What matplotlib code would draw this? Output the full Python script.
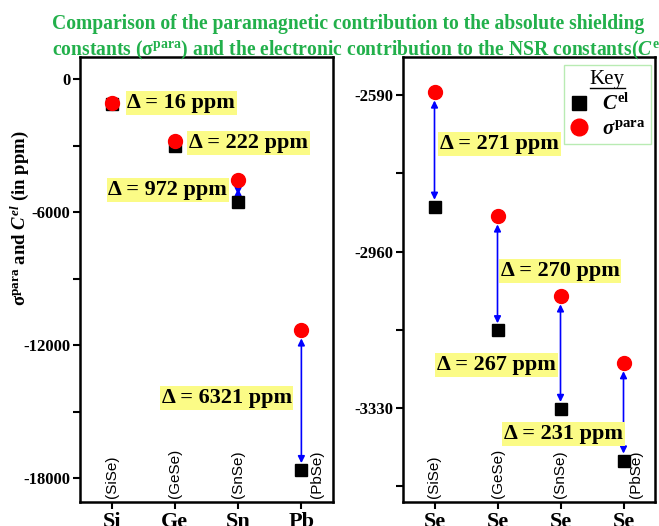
import matplotlib
matplotlib.use("Agg")
import matplotlib.pyplot as plt
from matplotlib.lines import Line2D
from matplotlib.ticker import FixedLocator
import matplotlib.transforms as mtransforms

plt.rcParams['font.family'] = ['Liberation Serif', 'DejaVu Serif']
plt.rcParams['font.weight'] = 'bold'
plt.rcParams['mathtext.fontset'] = 'custom'
plt.rcParams['mathtext.rm'] = 'Liberation Serif:bold'
plt.rcParams['mathtext.bf'] = 'Liberation Serif:bold'
plt.rcParams['mathtext.it'] = 'Liberation Serif:italic:bold'

# ---------------- data ----------------
left_elements = ["Si", "Ge", "Sn", "Pb"]
left_compounds = ["(SiSe)", "(GeSe)", "(SnSe)", "(PbSe)"]
left_sigma_para = [-1090, -2800, -4560, -11320]
left_c_el = [-1106, -3022, -5532, -17641]
left_delta = [16, 222, 972, 6321]

right_elements = ["Se", "Se", "Se", "Se"]
right_compounds = ["(SiSe)", "(GeSe)", "(SnSe)", "(PbSe)"]
right_sigma_para = [-2583, -2876, -3065, -3223]
right_c_el = [-2854, -3146, -3332, -3454]
right_delta = [271, 270, 267, 231]

left_yticks = [0, -6000, -12000, -18000]
right_yticks = [-2590, -2960, -3330]

# label placement (layout)
left_label_pos = [(1.25, -1083), (2.22, -2887), (0.95, -5008), (1.79, -14391)]
right_label_pos = [(1.09, -2706), (2.05, -3006), (1.04, -3228), (2.10, -3391)]
left_arrows = [False, False, True, True]
right_arrows = [True, True, True, True]

W, H = 659, 526
fig = plt.figure(figsize=(W / 100, H / 100), dpi=100)
axL = fig.add_axes([80 / W, 1 - 502 / H, (333 - 80) / W, (502 - 57) / H])
axR = fig.add_axes([403 / W, 1 - 502 / H, (655 - 403) / W, (502 - 57) / H])

yellow = '#fbfb86'
green = '#22b04b'


def style_axes(ax, yticks, ylim, elements, compounds, pb_shift):
    x = list(range(1, len(elements) + 1))
    ax.set_xlim(0.5, 4.5)
    ax.set_ylim(*ylim)
    ax.set_xticks(x)
    ax.set_xticklabels(elements, fontsize=16, fontweight='bold')
    ax.set_yticks(yticks)
    ax.set_yticklabels([str(t) for t in yticks], fontsize=12, fontweight='bold')
    step = yticks[0] - yticks[1]
    minors = [t - step / 2 for t in yticks] + [yticks[0] + step / 2]
    ax.yaxis.set_minor_locator(FixedLocator(minors))
    ax.tick_params(axis='both', which='major', direction='out', length=5, width=1.5, pad=2)
    ax.tick_params(axis='y', which='minor', direction='out', length=5, width=1.5)
    for s in ax.spines.values():
        s.set_linewidth(1.8)
    trans = mtransforms.blended_transform_factory(ax.transData, ax.transAxes)
    for i, c in enumerate(compounds):
        dx = pb_shift if i == len(compounds) - 1 else 0.0
        ax.text(x[i] + dx, 0.008, c, rotation=90, ha='center', va='bottom',
                fontsize=11, fontweight='normal', family=['Liberation Sans', 'DejaVu Sans'],
                transform=trans)
    return x


def draw_panel(ax, x, sigma, cel, delta, pos, arrows):
    for i in range(len(x)):
        if arrows[i]:
            ax.annotate('', xy=(x[i], cel[i]), xytext=(x[i], sigma[i]),
                        arrowprops=dict(arrowstyle='<|-|>', color='#0000ff', lw=1.2,
                                        mutation_scale=10, shrinkA=6, shrinkB=5))
    ax.plot(x, cel, 's', color='black', markersize=8, linestyle='none', zorder=3)
    ax.plot(x, sigma, 'o', color='#ff0000', markersize=10, linestyle='none', zorder=4)
    for i, d in enumerate(delta):
        ax.text(pos[i][0], pos[i][1], f'\u0394 = {d} ppm', ha='left', va='center',
                fontsize=16, fontweight='bold',
                bbox=dict(boxstyle='square,pad=0.08', facecolor=yellow, edgecolor='none'),
                zorder=5)


xl = style_axes(axL, left_yticks, (-19080, 1000), left_elements, left_compounds, 0.25)
draw_panel(axL, xl, left_sigma_para, left_c_el, left_delta, left_label_pos, left_arrows)

xr = style_axes(axR, right_yticks, (-3552, -2500), right_elements, right_compounds, 0.2)
draw_panel(axR, xr, right_sigma_para, right_c_el, right_delta, right_label_pos, right_arrows)

# legend
handles = [Line2D([], [], marker='s', color='black', linestyle='none', markersize=10),
           Line2D([], [], marker='o', color='#ff0000', linestyle='none', markersize=12)]
leg = axR.legend(handles, [r'$C^{\rm el}$', r'$\sigma^{\rm para}$'], title='Key',
                 loc='upper right', bbox_to_anchor=(1.025, 1.005), fontsize=15,
                 title_fontsize=15, frameon=True, fancybox=False,
                 handlelength=1.0, handletextpad=0.6, borderpad=0.25, labelspacing=0.2)
leg.get_frame().set_edgecolor('#a8e6a0')
leg.get_frame().set_linewidth(1.0)
leg.get_title().set_fontweight('normal')
leg.set_zorder(10)

# title
fig.text(52 / W, 1 - 29 / H,
         'Comparison of the paramagnetic contribution to the absolute shielding',
         color=green, fontsize=14.1, fontweight='bold', ha='left', va='baseline')
fig.text(52 / W, 1 - 55 / H,
         r'constants ($\mathrm{\sigma}^{\rm para}$) and the electronic contribution to the NSR constants($C^{\rm el}$)',
         color=green, fontsize=14.1, fontweight='bold', ha='left', va='baseline')

# y label
fig.text(20 / W, 1 - 218 / H, r'$\mathrm{\sigma}^{\rm para}$ and $C^{el}$ (in ppm)',
         rotation=90, ha='center', va='center', fontsize=13.5, fontweight='bold')

# underline legend title
fig.canvas.draw()
r = fig.canvas.get_renderer()
bb = leg.get_title().get_window_extent(r)
inv = fig.transFigure.inverted()
(x0, y0), (x1, y1) = inv.transform([(bb.x0, bb.y0 + 1), (bb.x1, bb.y0 + 1)])
fig.add_artist(Line2D([x0, x1], [y0, y1], color='black', lw=1.0, transform=fig.transFigure, zorder=20))

fig.savefig('out.png', dpi=100)
